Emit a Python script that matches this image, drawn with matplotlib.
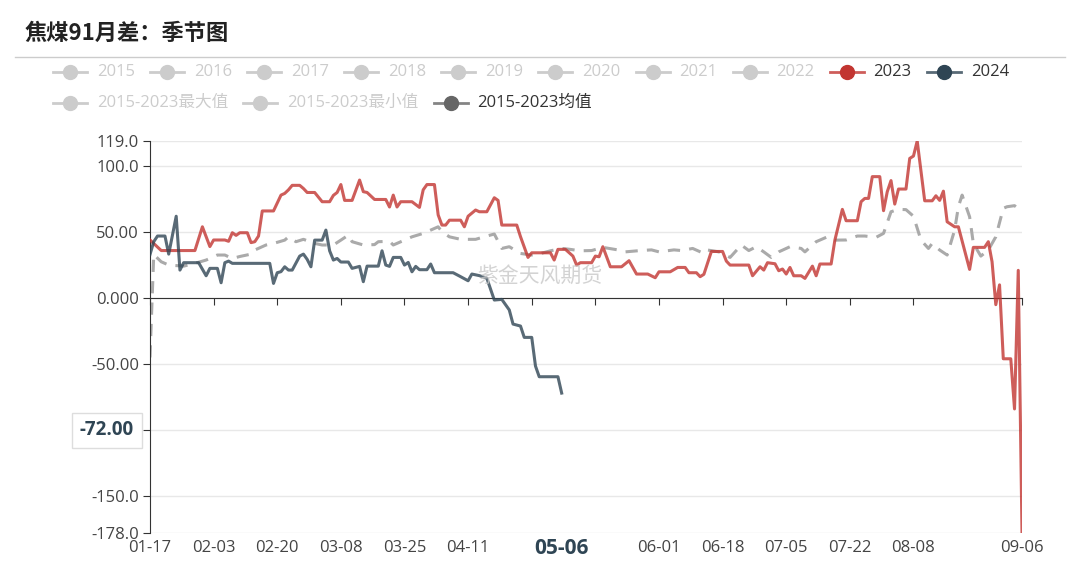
import matplotlib
matplotlib.use('Agg')
import matplotlib.pyplot as plt
from matplotlib.lines import Line2D
import pandas as pd

plt.rcParams['font.family'] = ['Open Sans', 'Noto Sans CJK SC', 'DejaVu Sans']

# category axis: one category per day of 2024
start_date = '2024-01-17'
end_date = '2024-09-06'
label_step = 17
pointer_idx = 110          # 05-06, where the 2024 series ends
pointer_value = -72.00

# 2023 series (category index, value)
red_idx = [0, 3, 12, 14, 16, 17, 20, 21, 22, 23, 24, 26, 27, 28, 29, 30, 33, 35, 36, 37,
           38, 40, 41, 42, 44, 46, 48, 49, 50, 51, 52, 54, 56, 57, 58, 60, 63, 64, 65, 66,
           67, 70, 72, 73, 74, 76, 77, 78, 79, 80, 83, 84, 85, 87, 88, 90, 92, 93, 94, 98,
           99, 101, 102, 107, 108, 109, 111, 113, 114, 115, 118, 119, 120, 121, 123, 126, 128, 130, 133, 135,
           136, 139, 141, 143, 144, 146, 147, 148, 150, 153, 154, 155, 160, 161, 163, 164, 165, 167, 168, 169,
           170, 171, 172, 174, 175, 177, 178, 179, 182, 183, 185, 186, 189, 190, 191, 192, 193, 195, 196, 197,
           198, 199, 200, 202, 203, 204, 205, 207, 209, 210, 211, 212, 213, 215, 216, 219, 220, 223, 224, 225,
           226, 227, 228, 230, 231, 232, 233]
red_val = [44, 36, 36, 54, 39, 44, 44, 43, 49.5, 47.5, 49.5, 49.5, 42, 42.7, 47, 66, 66, 78, 79.3, 82,
           85.4, 85.4, 83, 80, 80, 73, 73, 77.8, 80, 86, 74, 74, 89.4, 80.6, 80, 74.7, 74.7, 69, 78, 69,
           73, 73, 68.7, 82, 86, 86, 63, 55.3, 55.3, 59, 59, 54, 62, 66.7, 65.4, 65.4, 76, 74, 55.3, 55.3,
           46.5, 30.8, 34.3, 34.3, 28.8, 36.9, 36.9, 31.8, 25, 26.8, 26.8, 31.8, 31.3, 38.9, 23.7, 23.7, 28.3, 18.2, 18.2, 15.4,
           19.9, 19.9, 23.2, 23.2, 19.2, 19.2, 16.2, 18, 35.3, 35.3, 28, 25, 25, 16.9, 23.7, 21.2, 26.8, 26, 20.7, 22,
           18.2, 23.2, 16.9, 16.9, 14.9, 24.2, 16.9, 25.8, 25.8, 43.9, 67.2, 58.6, 58.6, 73, 75.5, 75.5, 92, 92, 66.2, 80.6,
           89, 71.2, 82.6, 82.6, 105.8, 107.6, 119, 73.7, 73.7, 77.5, 74, 81, 57.8, 54, 54, 21.7, 38.4, 38.4, 42.7, 27.5,
           -5, 10, -46, -46, -84, 21, -178]

# 2024 series
blue_idx = [0, 1, 2, 4, 5, 7, 8, 9, 13, 15, 16, 18, 19, 20, 21, 22, 32, 33, 34, 35,
            36, 37, 38, 40, 41, 42, 43, 44, 46, 47, 48, 49, 50, 51, 53, 54, 56, 57, 58, 61,
            62, 63, 64, 65, 67, 68, 69, 70, 71, 72, 74, 75, 76, 81, 83, 85, 86, 88, 89, 90,
            92, 94, 96, 97, 99, 100, 102, 103, 104, 109, 110]
blue_val = [33, 42.7, 47, 47, 33.3, 62, 21.2, 26.8, 26.8, 16.9, 22.5, 22.5, 11.6, 26.8, 28, 26.3, 26.3, 11.1, 19.2, 20,
            23.7, 21.2, 21.2, 31.8, 33.3, 29.3, 23.7, 43.9, 43.9, 51.5, 35.8, 28.8, 30, 27.3, 27.3, 22.5, 24, 12.4, 24.2, 24.2,
            35.8, 25, 24, 30.8, 30.8, 25, 27, 19.9, 24, 21.5, 21.5, 25.8, 19.2, 19.2, 16.2, 13.1, 18.2, 17, 16, 15,
            -1.5, -1, -9, -19.7, -21.2, -29.8, -29.8, -51.5, -59.6, -59.6, -72]

# 2015-2023 average
avg_idx = [0, 1, 3, 5, 9, 12, 15, 18, 20, 22, 24, 27, 28, 31, 33, 36, 37, 39, 41, 44,
           46, 49, 51, 53, 54, 57, 60, 61, 64, 65, 68, 70, 73, 75, 77, 78, 80, 83, 85, 87,
           90, 92, 94, 96, 99, 102, 104, 107, 110, 112, 115, 118, 121, 125, 127, 131, 134, 136, 140, 142,
           145, 148, 149, 152, 155, 158, 160, 162, 164, 166, 168, 171, 174, 175, 178, 181, 183, 186, 189, 191,
           194, 196, 198, 200, 202, 204, 206, 208, 209, 211, 213, 215, 216, 217, 219, 220, 222, 224, 226, 228,
           229, 231, 233]
avg_val = [-45, 33, 27.5, 25, 24.2, 26.3, 28.8, 32.6, 32.6, 30, 31.5, 33.3, 36.4, 40.2, 41.4, 43.9, 46.4, 42.7, 44.5, 41.4,
           40.2, 40.2, 43.9, 47.7, 42.7, 40.2, 40.5, 42.7, 43, 40.2, 43.9, 46.4, 49, 51.5, 54, 50.3, 46.4, 44.5, 44.5, 44.5,
           47, 48.5, 37.6, 38.9, 33.8, 32.6, 33.5, 35.8, 37.6, 37, 35.8, 36, 38.4, 36.5, 35, 36, 36.5, 35, 36.5, 36,
           37.6, 33.8, 36.4, 35, 30.8, 40.2, 36, 38.9, 35, 30.8, 35, 38.9, 37.6, 35, 42.7, 46.4, 43.9, 44, 47, 47,
           46, 49, 65.4, 67.2, 67, 62, 43.9, 37.6, 41.4, 36.4, 32.6, 51.5, 69.2, 78, 61.6, 41.4, 31.8, 36.4, 46.4, 68,
           69.2, 70, 65.4]

y_ticks = [119, 100, 50, 0, -50, -100, -150, -178]
y_labels = ['119.0', '100.0', '50.00', '0.000', '-50.00', '', '-150.0', '-178.0']

legend_row1 = ['2015', '2016', '2017', '2018', '2019', '2020', '2021', '2022', '2023', '2024']
legend_row2 = ['2015-2023最大值', '2015-2023最小值', '2015-2023均值']
legend_colors = {'2023': '#c23531', '2024': '#2f4554', '2015-2023均值': '#666666'}

dates = pd.date_range(start_date, end_date, freq='D')
n_days = len(dates) - 1

fig = plt.figure(figsize=(10.8, 5.67), dpi=100)
ax = fig.add_axes([150 / 1080, 1 - 533 / 567, 872 / 1080, 392 / 567])
ax.set_xlim(0, n_days)
ax.set_ylim(min(y_ticks), max(y_ticks))

# grid + axes
for yt in y_ticks:
    ax.axhline(yt, color='#e8e8e8', lw=1, zorder=0)
for s in ['top', 'right']:
    ax.spines[s].set_visible(False)
ax.spines['left'].set_color('#333333')
ax.spines['bottom'].set_position(('data', 0))
ax.spines['bottom'].set_color('#333333')
ax.set_yticks(y_ticks)
ax.set_yticklabels(y_labels)
ax.tick_params(axis='y', length=5, color='#333333', labelsize=12, labelcolor='#444444', pad=3)

tick_idx = [i for i in range(0, n_days + 1, label_step) if n_days - i >= label_step] + [n_days]
ax.set_xticks(tick_idx)
ax.tick_params(axis='x', length=5, color='#333333', labelbottom=False)

# x labels at the bottom
for i in tick_idx:
    if abs(i - pointer_idx) < 20:
        continue
    ax.annotate(dates[i].strftime('%m-%d'), xy=(i, 0), xycoords=('data', 'axes fraction'),
                xytext=(0, -7), textcoords='offset pixels', ha='center', va='top',
                fontsize=12, color='#444444')

# series
ax.plot(avg_idx, avg_val, color='#aaaaaa', lw=2.2, dashes=(4, 3), zorder=2)
ax.plot(red_idx, red_val, color='#c23531', alpha=0.8, lw=2.2, zorder=3)
ax.plot(blue_idx, blue_val, color='#2f4554', alpha=0.8, lw=2.2, zorder=4)

# axis pointer labels
ax.annotate(dates[pointer_idx].strftime('%m-%d'), xy=(pointer_idx, 0), xycoords=('data', 'axes fraction'),
            xytext=(0, -5), textcoords='offset pixels', ha='center', va='top',
            fontsize=15, fontweight='bold', color='#2f4554',
            bbox=dict(boxstyle='square,pad=0.1', fc='white', ec='none'))
ax.annotate(f'{pointer_value:.2f}', xy=(0, y_ticks[5]), xycoords=('axes fraction', 'data'),
            xytext=(-16, 0), textcoords='offset pixels', ha='right', va='center',
            fontsize=13.5, fontweight='bold', color='#2f4554',
            bbox=dict(boxstyle='square,pad=0.4', fc='white', ec='#dddddd', lw=1))

# watermark
fig.text(540 / 1080, 1 - 276 / 567, '紫金天风期货', fontsize=15, color='#c8c8c8',
         family=['Noto Sans CJK SC'], ha='center', va='center', alpha=0.8, zorder=1)

# title + rule
fig.text(25 / 1080, 1 - 33 / 567, '焦煤91月差：季节图', fontsize=16, fontweight='bold',
         family=['Noto Sans CJK SC'], color='#222222', ha='left', va='center')
fig.add_artist(Line2D([15 / 1080, 1065 / 1080], [1 - 57 / 567, 1 - 57 / 567],
                      color='#cccccc', lw=1))

# legend drawn by hand
renderer = fig.canvas.get_renderer()


def draw_legend_row(names, y_px, x_start):
    x = x_start
    for name in names:
        col = legend_colors.get(name, '#cccccc')
        tcol = '#333333' if name in legend_colors else '#cccccc'
        yf = 1 - y_px / 567
        fig.add_artist(Line2D([x / 1080, (x + 34) / 1080], [yf, yf], color=col, lw=2,
                              alpha=0.8 if name in legend_colors else 1))
        fig.add_artist(Line2D([(x + 17) / 1080], [yf], marker='o', markersize=10,
                              color=col, markeredgecolor=col))
        t = fig.text((x + 44) / 1080, yf, name, fontsize=12, color=tcol, ha='left', va='center')
        w = t.get_window_extent(renderer).width
        x = x + 44 + w + 15


draw_legend_row(legend_row1, 72, 53)
draw_legend_row(legend_row2, 103, 53)

fig.savefig('out.png', dpi=100)
